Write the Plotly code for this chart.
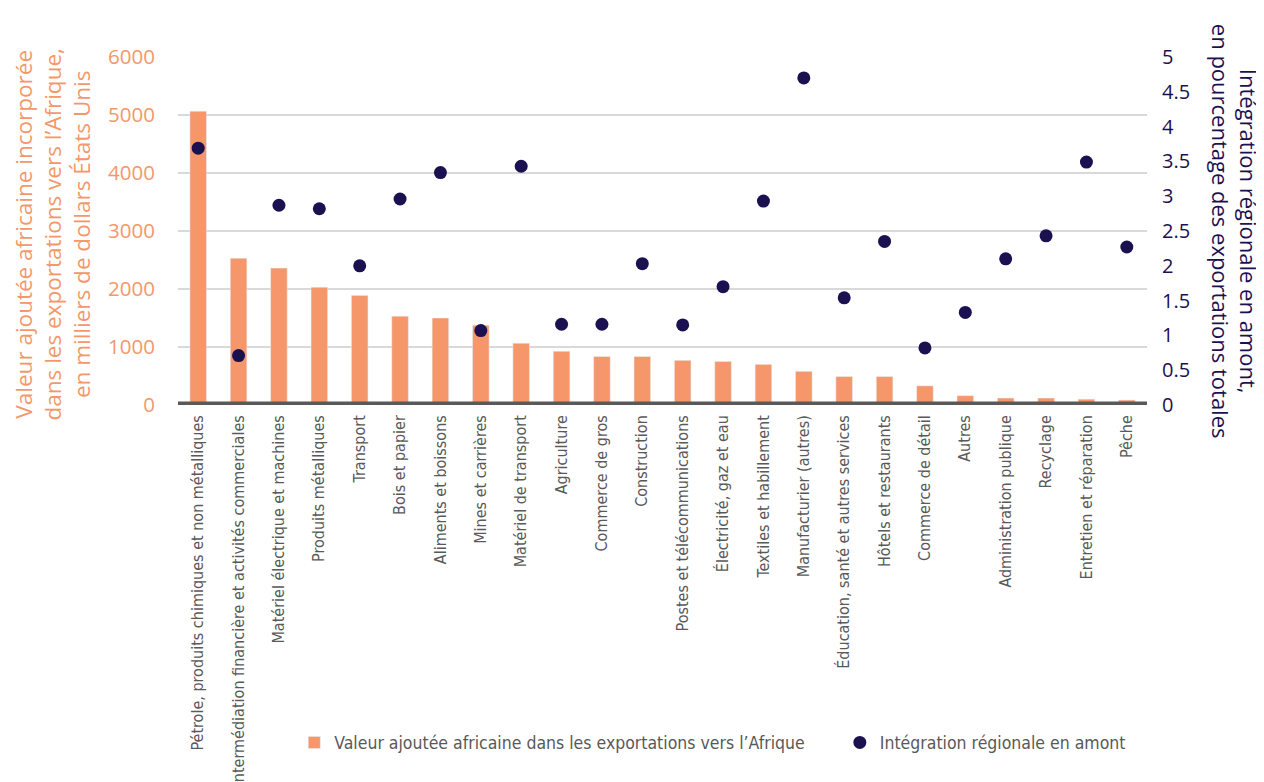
from plotly.graph_objs import Figure, Bar, Scatter

categories = [
    'Pétrole, produits chimiques et non métalliques',
    'Intermédiation financière et activités commerciales',
    'Matériel électrique et machines',
    'Produits métalliques',
    'Transport',
    'Bois et papier',
    'Aliments et boissons',
    'Mines et carrières',
    'Matériel de transport',
    'Agriculture',
    'Commerce de gros',
    'Construction',
    'Postes et télécommunications',
    'Électricité, gaz et eau',
    'Textiles et habillement',
    'Manufacturier (autres)',
    'Éducation, santé et autres services',
    'Hôtels et restaurants',
    'Commerce de détail',
    'Autres',
    'Administration publique',
    'Recyclage',
    'Entretien et réparation',
    'Pêche',
]

value_added = [5065, 2530, 2360, 2030, 1890, 1530, 1500, 1375, 1065, 925,
               835, 835, 770, 750, 700, 580, 490, 490, 330, 160,
               120, 120, 100, 85]

upstream_integration = [3.69, 0.71, 2.87, 2.82, 2.00, 2.96, 3.34, 1.07, 3.43, 1.16,
                        1.16, 2.03, 1.15, 1.70, 2.93, 4.70, 1.54, 2.35, 0.82, 1.33,
                        2.10, 2.43, 3.49, 2.27]

orange = '#F5976A'
navy = '#1C1150'
grey = '#595959'
title_font = 'Open Sans, Noto Sans, sans-serif'
narrow_font = 'Liberation Sans Narrow, DejaVu Sans Condensed, sans-serif'
legend_font = dict(family=narrow_font, size=17.5, color=grey)

fig = Figure()
fig.add_trace(Bar(x=categories, y=value_added, marker=dict(color=orange),
                  name='Valeur ajoutée africaine dans les exportations vers l’Afrique'))
fig.add_trace(Scatter(x=categories, y=upstream_integration, yaxis='y2', mode='markers',
                      marker=dict(color=navy, size=13), legend='legend2',
                      name='Intégration régionale en amont'))

# thick baseline at zero
fig.add_shape(type='line', xref='paper', yref='y', x0=0, x1=1, y0=0, y1=0,
              line=dict(color=grey, width=7), layer='above')

fig.add_annotation(text='Valeur ajoutée africaine incorporée<br>dans les exportations vers l’Afrique,'
                        '<br>en milliers de dollars États Unis',
                   xref='paper', yref='paper', x=-0.129, y=0.49, textangle=-90,
                   showarrow=False, font=dict(family=title_font, size=22.5, color=orange),
                   xanchor='center', yanchor='middle')
fig.add_annotation(text='Intégration régionale en amont,<br>en pourcentage des exportations totales',
                   xref='paper', yref='paper', x=1.091, y=0.50, textangle=90,
                   showarrow=False, font=dict(family=title_font, size=22, color=navy),
                   xanchor='center', yanchor='middle')

# the page adds an 8px offset, so the figure is drawn 8px smaller
fig.update_layout(
    width=1256, height=774,
    margin=dict(l=170, r=117, t=49, b=377, autoexpand=False),
    plot_bgcolor='white', paper_bgcolor='white',
    bargap=0.59,
    showlegend=True,
    legend=dict(orientation='h', x=0.12, y=-0.97, xanchor='left', yanchor='middle',
                font=legend_font),
    legend2=dict(orientation='h', x=0.683, y=-0.97, xanchor='left', yanchor='middle',
                 font=legend_font),
    xaxis=dict(tickangle=-90, tickfont=dict(family=narrow_font, size=16, color=grey),
               showgrid=False, ticks='', ticklabelstandoff=6, automargin=False,
               range=[-0.5, len(categories) - 0.5]),
    yaxis=dict(range=[0, 6000], dtick=1000, showgrid=True, gridcolor='#D9D9D9', gridwidth=1.5,
               zeroline=False, tickfont=dict(family=title_font, size=20.5, color=orange),
               ticklabelstandoff=22, automargin=False),
    yaxis2=dict(range=[0, 5], dtick=0.5, overlaying='y', side='right', showgrid=False,
                zeroline=False, tickfont=dict(family=title_font, size=20, color=navy),
                ticklabelstandoff=14, automargin=False),
)

fig.write_html('out.html')
